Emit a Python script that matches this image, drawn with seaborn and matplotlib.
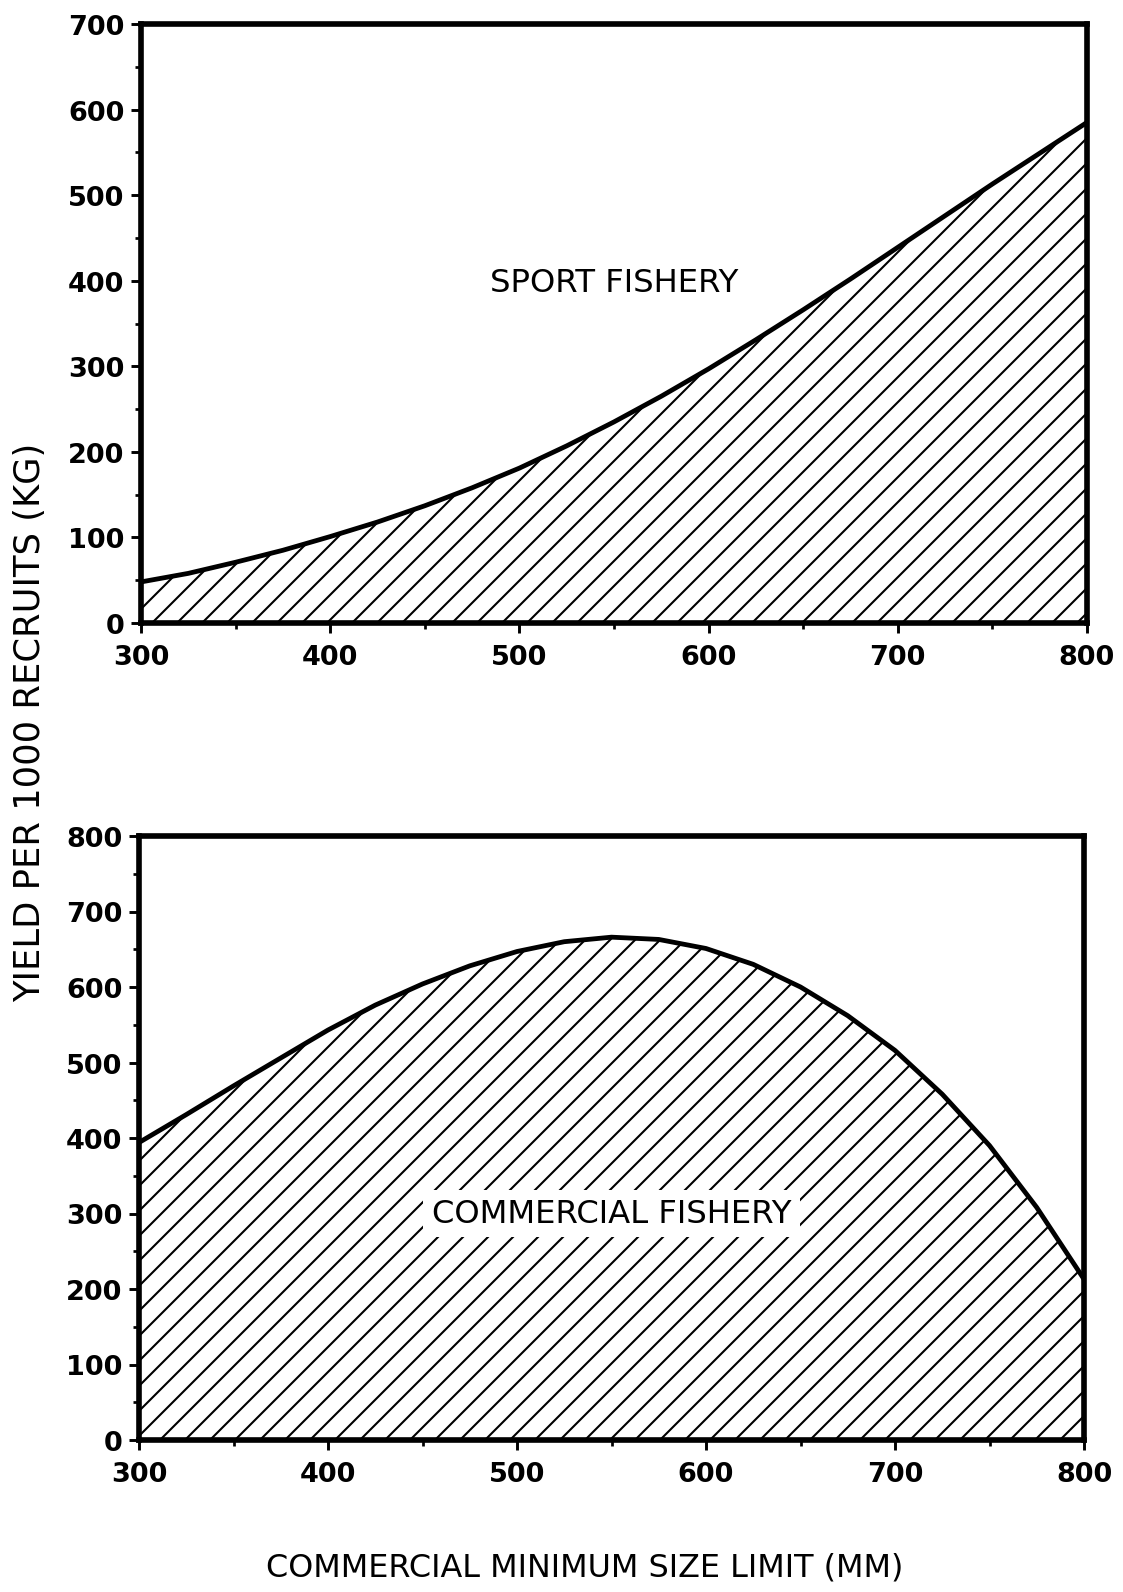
import numpy as np
import pandas as pd
import matplotlib
matplotlib.use("Agg")
import matplotlib.pyplot as plt
import seaborn as sns
from matplotlib.ticker import MultipleLocator

# ---- data ----
size_limit_mm = [300, 325, 350, 375, 400, 425, 450, 475, 500, 525, 550,
                 575, 600, 625, 650, 675, 700, 725, 750, 775, 800]
sport_yield = [48, 58, 71, 85, 101, 118, 137, 158, 181, 207, 235,
               265, 297, 331, 366, 402, 439, 476, 513, 549, 585]
commercial_yield = [394, 431, 469, 506, 543, 576, 604, 628, 647, 660, 666,
                    663, 651, 630, 600, 562, 516, 458, 390, 308, 213]
x_ticks = [300, 400, 500, 600, 700, 800]
sport_y_ticks = [0, 100, 200, 300, 400, 500, 600, 700]
comm_y_ticks = [0, 100, 200, 300, 400, 500, 600, 700, 800]
sport_label = "SPORT FISHERY"
comm_label = "COMMERCIAL FISHERY"
x_title = "COMMERCIAL MINIMUM SIZE LIMIT (MM)"
y_title = "YIELD PER 1000 RECRUITS (KG)"

sport_df = pd.DataFrame({"size": size_limit_mm, "yield": sport_yield})
comm_df = pd.DataFrame({"size": size_limit_mm, "yield": commercial_yield})

sns.set_theme(style="ticks")
plt.rcParams["font.family"] = ["DejaVu Sans"]
plt.rcParams["hatch.linewidth"] = 1.0
plt.rcParams["hatch.color"] = "black"

DPI = 150
W, H = 1123, 1593
fig = plt.figure(figsize=(W / DPI, H / DPI), dpi=DPI)
fig.patch.set_facecolor("white")

ax1 = fig.add_axes([141 / W, 1 - 624 / H, (1087 - 141) / W, (624 - 25) / H])
ax2 = fig.add_axes([139 / W, 1 - 1441 / H, (1084 - 139) / W, (1441 - 837) / H])


def style(ax, df, yticks, label, label_xy, boxed):
    ax.set_facecolor("white")
    ax.fill_between(df["size"], 0, df["yield"], facecolor="white",
                    edgecolor="black", hatch="//", linewidth=0, zorder=1)
    sns.lineplot(data=df, x="size", y="yield", ax=ax, color="black",
                 linewidth=2.3, zorder=3)
    ax.set_xlim(300, 800)
    ax.set_ylim(0, yticks[-1])
    ax.set_xticks(x_ticks)
    ax.set_yticks(yticks)
    ax.xaxis.set_minor_locator(MultipleLocator(50))
    ax.yaxis.set_minor_locator(MultipleLocator(50))
    ax.tick_params(axis="both", which="major", direction="out", length=5,
                   width=1.4, color="black", labelsize=13, pad=3)
    ax.tick_params(axis="both", which="minor", direction="out", length=3,
                   width=1.3, color="black")
    ax.tick_params(axis="x", which="major", pad=5)
    for lab in ax.get_xticklabels() + ax.get_yticklabels():
        lab.set_fontweight("bold")
        lab.set_color("black")
    for sp in ax.spines.values():
        sp.set_visible(True)
        sp.set_linewidth(2.7)
        sp.set_color("black")
        sp.set_zorder(5)
    ax.set_xlabel("")
    ax.set_ylabel("")
    ax.grid(False)
    kw = dict(ha="center", va="center", fontsize=15.5, color="black", zorder=4)
    if boxed:
        kw["bbox"] = dict(facecolor="white", edgecolor="none", pad=4)
    ax.text(label_xy[0], label_xy[1], label, **kw)


style(ax1, sport_df, sport_y_ticks, sport_label, (550, 398), False)
style(ax2, comm_df, comm_y_ticks, comm_label, (550, 300), True)

fig.text(30 / W, 1 - 722 / H, y_title, rotation=90, ha="center", va="center",
         fontsize=16.9, color="black")
fig.text(585 / W, 1 - 1568 / H, x_title, ha="center", va="center",
         fontsize=15.3, color="black")

fig.savefig("out.png", dpi=DPI, facecolor="white")
